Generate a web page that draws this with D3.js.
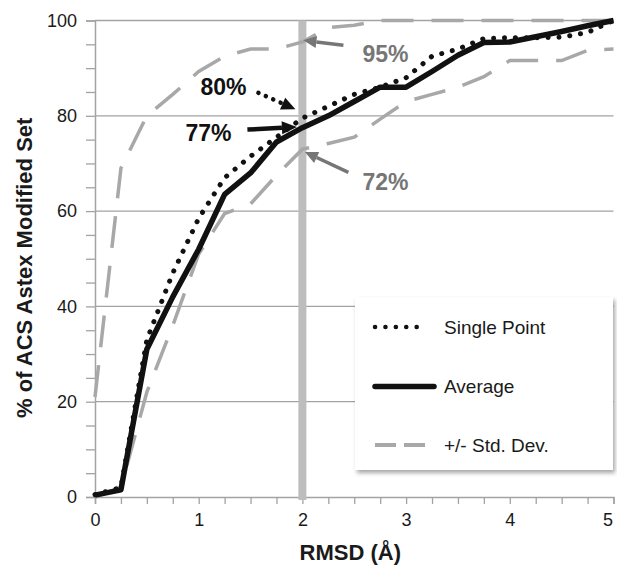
<!DOCTYPE html>
<html>
<head>
<meta charset="utf-8">
<script src="https://cdn.jsdelivr.net/npm/d3@7"></script>
<style>
  body { margin: 0; background: #fff; }
  svg { display: block; font-family: Arial, "Liberation Sans", sans-serif; }
</style>
</head>
<body>
<svg id="chart"></svg>
<script>
// RMSD steps (Å)
const rmsd = [0, 0.25, 0.5, 0.75, 1, 1.25, 1.5, 1.75, 2, 2.25, 2.5, 2.75, 3, 3.25, 3.5, 3.75, 4, 4.25, 4.5, 4.75, 5];
// % of set below each RMSD
const singlePoint = [0.5, 2, 33, 47, 58.5, 67, 71.5, 75.5, 79.5, 82, 84.5, 86, 88, 92.5, 94, 96.2, 96.4, 96.4, 96.5, 97.5, 100];
const average = [0.4, 1.5, 31, 42, 52, 63.5, 68, 74.5, 77.5, 80, 83, 86, 86, 89.3, 92.7, 95.4, 95.5, 96.6, 97.7, 98.9, 100];
const upperStd = [21, 69, 80, 84.5, 89.3, 92.5, 94, 94, 95.5, 98.5, 99, 100, 100, 100, 100, 100, 100, 100, 100, 100, 100];
const lowerStd = [0, 2, 22, 36, 51, 59.5, 61.5, 67.5, 73, 74.2, 75.5, 79.3, 83, 84.5, 86, 88.2, 91.6, 91.6, 91.6, 93.7, 94];

const xTicks = [0, 1, 2, 3, 4, 5];
const yTicks = [0, 20, 40, 60, 80, 100];
const legendLabels = ["Single Point", "Average", "+/- Std. Dev."];
const marker = 2; // RMSD cut-off shown by the grey bar
const callouts = [
  { label: "80%", value: 80 },
  { label: "77%", value: 77 },
  { label: "95%", value: 95 },
  { label: "72%", value: 72 }
];

const width = 617, height = 566;
const margin = { top: 20.5, right: 3.5, bottom: 69, left: 95 };

const svg = d3.select("#chart").attr("width", width).attr("height", height);

const x = d3.scaleLinear().domain([0, 5]).range([margin.left, width - margin.right]);
const y = d3.scaleLinear().domain([0, 100]).range([height - margin.bottom, margin.top]);

const gridColor = "#a3a3a3";
const dashColor = "#a8a8a8";
const noteGray = "#767676";

// drop shadow for the legend box
const defs = svg.append("defs");
defs.append("filter").attr("id", "shadow").attr("x", "-10%").attr("y", "-10%").attr("width", "130%").attr("height", "130%")
  .append("feDropShadow").attr("dx", 2).attr("dy", 3).attr("stdDeviation", 2).attr("flood-color", "#000").attr("flood-opacity", 0.35);

// horizontal gridlines
svg.append("g").selectAll("line").data(yTicks.slice(1)).enter().append("line")
  .attr("x1", x(0)).attr("x2", x(5))
  .attr("y1", d => y(d)).attr("y2", d => y(d))
  .attr("stroke", gridColor).attr("stroke-width", 1.3);

// y axis: minor ticks every 5, labels every 20
const yAxis = d3.axisLeft(y).tickValues(d3.range(0, 101, 5)).tickSize(9)
  .tickFormat(d => yTicks.includes(d) ? d : "");
const gy = svg.append("g").attr("transform", `translate(${x(0)},0)`).call(yAxis);
gy.select(".domain").attr("stroke", gridColor).attr("stroke-width", 1.5);
gy.selectAll(".tick line").attr("stroke", gridColor).attr("stroke-width", 1.3);
gy.selectAll(".tick text").attr("x", -18).attr("font-size", 18).attr("fill", "#1a1a1a")
  .attr("font-family", "Arial, 'Liberation Sans', sans-serif");

// x axis: ticks every 0.25
const xAxis = d3.axisBottom(x).tickValues(d3.range(0, 5.01, 0.25)).tickSize(7)
  .tickFormat(d => xTicks.includes(d) ? d : "");
const gx = svg.append("g").attr("transform", `translate(0,${y(0)})`).call(xAxis);
gx.select(".domain").attr("stroke", gridColor).attr("stroke-width", 1.5);
gx.selectAll(".tick line").attr("stroke", gridColor).attr("stroke-width", 1.3);
gx.selectAll(".tick text").attr("y", 16).attr("font-size", 18).attr("fill", "#1a1a1a")
  .attr("font-family", "Arial, 'Liberation Sans', sans-serif");
// last label sits at the window edge; nudge it in so it stays readable
gx.selectAll(".tick text").filter(d => d === 5).attr("dx", -6);

// grey bar at the 2 Å cut-off
svg.append("line")
  .attr("x1", x(marker)).attr("x2", x(marker))
  .attr("y1", y(100)).attr("y2", y(0) + 3)
  .attr("stroke", "#bdbdbd").attr("stroke-width", 8);

const line = d3.line().x((d, i) => x(rmsd[i])).y(d => y(d));

// std dev curves
[lowerStd, upperStd].forEach(s => {
  svg.append("path").datum(s).attr("d", line)
    .attr("fill", "none").attr("stroke", dashColor).attr("stroke-width", 3.5)
    .attr("stroke-dasharray", "32,18");
});

// single point (dotted)
svg.append("path").datum(singlePoint).attr("d", line)
  .attr("fill", "none").attr("stroke", "#111").attr("stroke-width", 5)
  .attr("stroke-linecap", "round").attr("stroke-dasharray", "0.1,10.8");

// average (solid)
svg.append("path").datum(average).attr("d", line)
  .attr("fill", "none").attr("stroke", "#111").attr("stroke-width", 5.5)
  .attr("stroke-linejoin", "round");

// arrow helper: shaft + filled head ending at the tip
function arrow(x1, y1, x2, y2, color, width, headLen, headW, dash) {
  const a = Math.atan2(y2 - y1, x2 - x1);
  const bx = x2 - headLen * Math.cos(a), by = y2 - headLen * Math.sin(a);
  const shaft = svg.append("line")
    .attr("x1", x1).attr("y1", y1).attr("x2", bx).attr("y2", by)
    .attr("stroke", color).attr("stroke-width", width);
  if (dash) shaft.attr("stroke-dasharray", dash).attr("stroke-linecap", "round");
  const px = -Math.sin(a) * headW / 2, py = Math.cos(a) * headW / 2;
  svg.append("polygon")
    .attr("points", [[x2, y2], [bx + px, by + py], [bx - px, by - py]].map(p => p.join(",")).join(" "))
    .attr("fill", color);
}

const xm = x(marker);
const noteText = (c, tx, ty, color) => svg.append("text")
  .attr("x", tx).attr("y", ty).attr("font-size", 23).attr("font-weight", "bold")
  .attr("fill", color).text(c.label);

// 80% single point
noteText(callouts[0], xm - 102, y(callouts[0].value) - 20.5, "#111");
arrow(xm - 44, y(callouts[0].value) - 23, xm - 7, y(callouts[0].value) - 6.5, "#111", 4.5, 14, 13, "0.1,8");
// 77% average
noteText(callouts[1], xm - 117, y(callouts[1].value) + 10.5, "#111");
arrow(xm - 55, y(callouts[1].value) - 0.5, xm - 5.5, y(callouts[1].value) - 3, "#111", 4.5, 15, 13);
// 95% upper
noteText(callouts[2], xm + 60, y(callouts[2].value) + 17.5, noteGray);
arrow(xm + 41, y(callouts[2].value) + 1, xm + 1, y(callouts[2].value) - 4, noteGray, 3.5, 13, 12);
// 72% lower
noteText(callouts[3], xm + 60, y(callouts[3].value) + 36.5, noteGray);
arrow(xm + 46, y(callouts[3].value) + 18.5, xm + 2.5, y(callouts[3].value) - 2, noteGray, 3.5, 13, 12);

// legend
const lg = svg.append("g").attr("transform", "translate(355,297)");
lg.append("rect").attr("width", 258).attr("height", 173).attr("fill", "#fff").attr("filter", "url(#shadow)");
const rows = [30, 89.5, 148];
legendLabels.forEach((lab, i) => {
  const ly = rows[i];
  const s = lg.append("line").attr("x1", 20).attr("y1", ly).attr("y2", ly);
  if (i === 0) {
    s.attr("x2", 72).attr("stroke", "#111").attr("stroke-width", 4.5)
      .attr("stroke-linecap", "round").attr("stroke-dasharray", "0.1,10.3");
  } else if (i === 1) {
    s.attr("x2", 79).attr("stroke", "#111").attr("stroke-width", 5.5).attr("stroke-linecap", "round");
  } else {
    s.attr("x2", 70).attr("stroke", dashColor).attr("stroke-width", 4).attr("stroke-dasharray", "21,8");
  }
  lg.append("text").attr("x", 89).attr("y", ly).attr("dy", "0.35em")
    .attr("font-size", 19).attr("fill", "#1a1a1a").text(lab);
});

// axis titles
svg.append("text")
  .attr("x", (x(0) + x(5)) / 2 - 4).attr("y", 560)
  .attr("text-anchor", "middle").attr("font-size", 22).attr("font-weight", "bold").attr("fill", "#1a1a1a")
  .text("RMSD (Å)");

svg.append("text")
  .attr("transform", `translate(31.5,${(y(0) + y(100)) / 2 + 9}) rotate(-90)`)
  .attr("text-anchor", "middle").attr("font-size", 22).attr("font-weight", "bold").attr("fill", "#1a1a1a")
  .text("% of ACS Astex Modified Set");
</script>
</body>
</html>
